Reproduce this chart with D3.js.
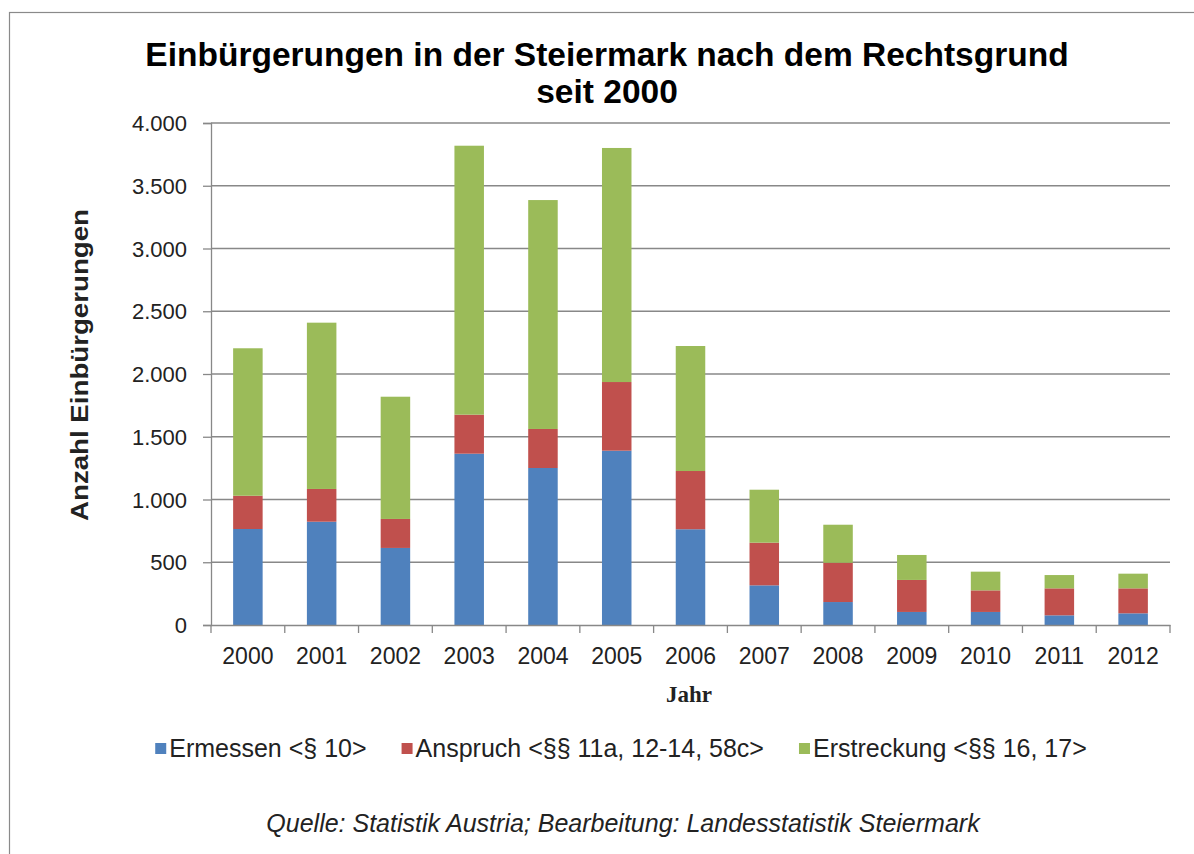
<!DOCTYPE html>
<html>
<head>
<meta charset="utf-8">
<script src="https://cdn.jsdelivr.net/npm/d3@7"></script>
<style>
  html, body { margin: 0; padding: 0; background: #fff; }
  svg { display: block; }
</style>
</head>
<body>
<svg id="chart" width="1194" height="854"></svg>
<script>
const years = ["2000","2001","2002","2003","2004","2005","2006","2007","2008","2009","2010","2011","2012"];
const ermessen    = [765, 823, 614, 1365, 1251, 1389, 763, 316, 183, 104, 104, 77, 93];
const anspruch    = [265, 261, 231, 311, 311, 547, 464, 340, 313, 255, 172, 215, 199];
const erstreckung = [1175, 1325, 974, 2143, 1824, 1865, 996, 422, 303, 199, 149, 106, 117];
const seriesNames = ["Ermessen <§ 10>", "Anspruch <§§ 11a, 12-14, 58c>", "Erstreckung <§§ 16, 17>"];
const seriesColors = ["#4F81BD", "#C0504D", "#9BBB59"];
const yTicks = [0, 500, 1000, 1500, 2000, 2500, 3000, 3500, 4000];
const titleLines = ["Einbürgerungen in der Steiermark nach dem Rechtsgrund", "seit 2000"];
const yTitle = "Anzahl Einbürgerungen";
const xTitle = "Jahr";
const sourceText = "Quelle: Statistik Austria; Bearbeitung:  Landesstatistik Steiermark";

(function () {
const svg = d3.select("#chart");
const font = "'Liberation Sans', Arial, sans-serif";

// outer frame
svg.append("rect").attr("x", 9.5).attr("y", 12.5).attr("width", 1200).attr("height", 900)
  .attr("fill", "#fff").attr("stroke", "#8a8a8a").attr("stroke-width", 1.2);

const pL = 211, pR = 1170, pT = 123, pB = 625;
const x = d3.scaleBand().domain(years).range([pL, pR]).paddingInner(0.6).paddingOuter(0.3);
const y = d3.scaleLinear().domain([0, 4000]).range([pB, pT]);

// gridlines
svg.append("g").selectAll("line").data(yTicks.filter(d => d > 0)).join("line")
  .attr("x1", pL).attr("x2", pR)
  .attr("y1", d => y(d)).attr("y2", d => y(d))
  .attr("stroke", "#888").attr("stroke-width", 1.3);

// stacked data
const table = years.map((yr, i) => ({year: yr, s0: ermessen[i], s1: anspruch[i], s2: erstreckung[i]}));
const stack = d3.stack().keys(["s0", "s1", "s2"])(table);

svg.append("g").selectAll("g").data(stack).join("g")
  .attr("fill", (d, i) => seriesColors[i])
  .selectAll("rect").data(d => d).join("rect")
  .attr("x", d => x(d.data.year))
  .attr("width", x.bandwidth())
  .attr("y", d => y(d[1]))
  .attr("height", d => y(d[0]) - y(d[1]));

// y axis
const yAxis = svg.append("g").attr("transform", `translate(${pL},0)`)
  .call(d3.axisLeft(y).tickValues(yTicks).tickSize(8).tickPadding(16)
    .tickFormat(d => d3.format(",")(d).replace(/,/g, ".")));
yAxis.select(".domain").attr("stroke", "#888").attr("stroke-width", 1.3);
yAxis.selectAll(".tick line").attr("stroke", "#888").attr("stroke-width", 1.3);
yAxis.selectAll(".tick text").attr("font-family", font).attr("font-size", 22).attr("fill", "#222")
  .attr("dy", "0.35em");

// x axis
const xAxis = svg.append("g").attr("transform", `translate(0,${pB})`)
  .call(d3.axisBottom(x).tickSize(0).tickPadding(0));
xAxis.select(".domain").attr("stroke", "#888").attr("stroke-width", 1.3);
xAxis.selectAll(".tick text").attr("font-family", font).attr("font-size", 23).attr("fill", "#222")
  .attr("y", 39).attr("dy", 0);
// boundary ticks
const step = x.step();
const boundaries = years.map((yr, i) => i).concat([years.length]);
svg.append("g").selectAll("line").data(boundaries).join("line")
  .attr("x1", i => pL + i * step).attr("x2", i => pL + i * step)
  .attr("y1", pB).attr("y2", pB + 8)
  .attr("stroke", "#888").attr("stroke-width", 1.3);

// title
svg.append("text").attr("x", 607).attr("y", 66).attr("text-anchor", "middle")
  .attr("font-family", font).attr("font-weight", "bold").attr("font-size", 33.5).attr("fill", "#000")
  .text(titleLines[0]);
svg.append("text").attr("x", 607).attr("y", 103).attr("text-anchor", "middle")
  .attr("font-family", font).attr("font-weight", "bold").attr("font-size", 33.5).attr("fill", "#000")
  .text(titleLines[1]);

// y title
svg.append("text").attr("transform", "translate(88,365) rotate(-90)").attr("text-anchor", "middle")
  .attr("font-family", font).attr("font-weight", "bold").attr("font-size", 23).attr("fill", "#222")
  .attr("textLength", 312).attr("lengthAdjust", "spacingAndGlyphs")
  .text(yTitle);

// x title
svg.append("text").attr("x", 689).attr("y", 702).attr("text-anchor", "middle")
  .attr("font-family", "'Liberation Serif', 'Times New Roman', serif").attr("font-weight", "bold")
  .attr("font-size", 23).attr("fill", "#222").text(xTitle);

// legend (laid out from measured text widths, centred)
const legendFont = 25, sq = 11, sqGap = 3, itemGap = 35, legendCx = 621, legendBase = 757;
const lg = svg.append("g");
const items = lg.selectAll("g").data(seriesNames).join("g");
items.append("rect").attr("x", 0).attr("y", -14).attr("width", sq).attr("height", sq)
  .attr("fill", (d, i) => seriesColors[i]);
items.append("text").attr("x", sq + sqGap).attr("y", 0).attr("font-family", font)
  .attr("font-size", legendFont).attr("fill", "#222").text(d => d);
const widths = [];
items.each(function () { widths.push(sq + sqGap + d3.select(this).select("text").node().getComputedTextLength()); });
const total = d3.sum(widths) + itemGap * (widths.length - 1);
let cx = legendCx - total / 2;
items.attr("transform", (d, i) => {
  const t = `translate(${cx},${legendBase})`;
  cx += widths[i] + itemGap;
  return t;
});

// source
svg.append("text").attr("x", 623).attr("y", 832).attr("text-anchor", "middle")
  .attr("font-family", font).attr("font-style", "italic").attr("font-size", 25).attr("fill", "#222")
  .text(sourceText);
})();
</script>
</body>
</html>
